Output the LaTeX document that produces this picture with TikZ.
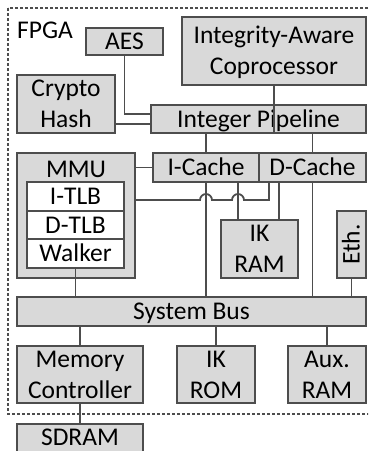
\documentclass[tikz,border=0pt]{standalone}
\usepackage{fontspec}
\setmainfont{Carlito}
\usetikzlibrary{calc}
\definecolor{edgec}{HTML}{4D4D4D}
\definecolor{boxc}{HTML}{D9D9D9}
\newcommand\capln[1]{\raisebox{0pt}[0.644em][0pt]{#1}}
\begin{document}
\begin{tikzpicture}[x=1pt,y=-1pt,
  blk/.style={draw=edgec, fill=boxc, line width=2pt, inner sep=0pt, align=center,
    font=\fontsize{25.5}{31}\selectfont},
  inner/.style={blk, fill=white},
  wire/.style={draw=edgec, line width=1.8pt},
  lbl/.style={inner sep=0pt, font=\fontsize{25.5}{31}\selectfont}]
\useasboundingbox (0,0) rectangle (368,451);
\clip (0,0) rectangle (368,451);
% FPGA region
\draw[edgec, line width=1.5pt, dash pattern=on 3pt off 2pt] (8,8) rectangle (372,414);
\node[lbl, anchor=base west] (fpga) at (17,38) {FPGA};
% blocks
\node[blk, minimum width=77pt, minimum height=27pt] (aes) at (124.5,41.5) {\capln{AES}};
\node[blk, minimum width=98pt, minimum height=58pt] (ch) at (66,104) {\capln{Crypto}\\\capln{Hash}};
\node[blk, minimum width=184pt, minimum height=68pt] (cop) at (274,51) {\capln{Integrity-Aware}\\\capln{Coprocessor}};
\node[blk, minimum width=215pt, minimum height=28pt] (ip) at (258.5,119) {\capln{Integer Pipeline}};
\node[blk, minimum width=106pt, minimum height=29pt] (ic) at (206,167.5) {\capln{I-Cache}};
\node[blk, minimum width=107pt, minimum height=29pt] (dc) at (312.5,167.5) {\capln{D-Cache}};
\node[blk, minimum width=118pt, minimum height=125pt] (mmu) at (76,215.5) {};
\node[lbl, anchor=base] (mmul) at ($(mmu.north)+(0,25)$) {MMU};
\node[inner, minimum width=97pt, minimum height=29pt] (itlb) at (75.5,196.5) {\capln{I-TLB}};
\node[inner, minimum width=97pt, minimum height=28pt] (dtlb) at (75.5,225) {\capln{D-TLB}};
\node[inner, minimum width=97pt, minimum height=29pt] (walk) at (75.5,253.5) {\capln{Walker}};
\node[blk, minimum width=77pt, minimum height=58pt] (ikram) at (259.5,249) {\capln{IK}\\\capln{RAM}};
\node[blk, rotate=90, minimum width=67pt, minimum height=29pt] (eth) at (351.5,244.5) {\capln{Eth.}};
\node[blk, minimum width=349pt, minimum height=29pt] (bus) at (191.5,311.5) {\capln{System Bus}};
\node[blk, minimum width=126pt, minimum height=57pt] (mc) at (80,374.5) {\capln{Memory}\\\capln{Controller}};
\node[blk, minimum width=78pt, minimum height=57pt] (ikrom) at (216,374.5) {\capln{IK}\\\capln{ROM}};
\node[blk, minimum width=78pt, minimum height=57pt] (aux) at (327,374.5) {\capln{Aux.}\\\capln{RAM}};
\node[blk, minimum width=126pt, minimum height=31pt] (sdram) at (80,439.5) {};
\node[lbl] (sdraml) at (80,437) {\capln{SDRAM}};
% helper coordinates
\coordinate (ipa) at ($(ip.west)+(0,-5)$);
\coordinate (ipb) at ($(ip.west)+(0,5)$);
\coordinate (v1) at (ic.south);
\coordinate (v2) at ($(ic.south)+(32,0)$);
\coordinate (v3) at ($(dc.south)+(-33.5,0)$);
\coordinate (v4) at (dc.south);
\coordinate (v5) at ($(dc.south)+(-43.5,0)$);
\coordinate (dtl) at ($(mmu.north east)+(0,48)$);
\coordinate (ethb) at ($(eth.center)+(0,33.5)$);
% connectors
\draw[wire] (aes.south) |- (ipa);
\draw[wire] (ipb -| ch.east) -- (ipb);
\draw[wire] (cop.south) -- (cop.south |- ip.south);
\draw[wire] (ic.north) -- (ic.north |- ip.south);
\draw[wire] (dc.north) -- (dc.north |- ip.south);
\draw[wire] (ic.west -| mmu.east) -- (ic.west);
\draw[wire] (v1) -- (v1 |- bus.north);
\draw[wire] (v2) -- (v2 |- ikram.north);
\draw[wire] (v3) -- (v3 |- ikram.north);
\draw[wire] (v4) -- (v4 |- bus.north);
\draw[wire] (dtl) -- ($(v1 |- dtl)+(-6,0)$) arc[start angle=180, end angle=0, radius=6pt]
  -- ($(v2 |- dtl)+(-6,0)$) arc[start angle=180, end angle=0, radius=6pt]
  -- (v5 |- dtl) -- (v5);
\draw[wire] (ethb) -- (ethb |- bus.north);
\draw[wire] (walk.south) -- (walk.south |- bus.north);
\draw[wire] (bus.south -| mc.north) -- (mc.north);
\draw[wire] (bus.south -| ikrom.north) -- (ikrom.north);
\draw[wire] (bus.south -| aux.north) -- (aux.north);
\draw[wire] (mc.south) -- (sdram.north);
\end{tikzpicture}
\end{document}
